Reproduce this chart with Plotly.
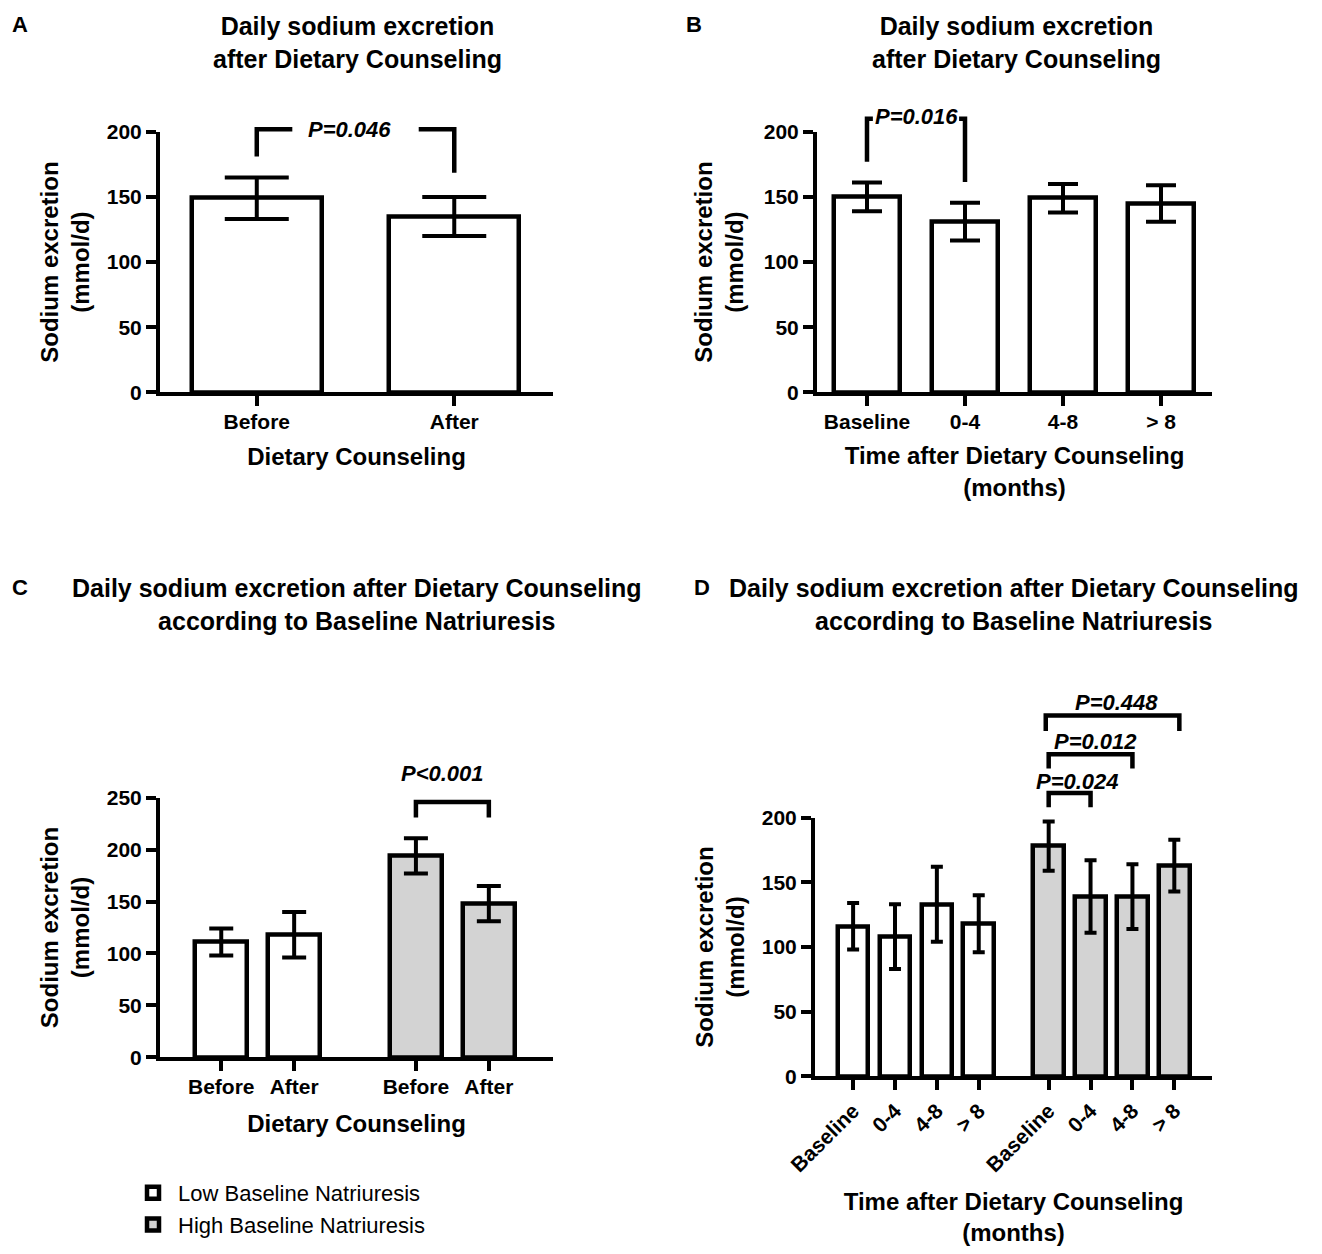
import plotly.graph_objects as go

# ---------------- data ----------------
a_categories = ["Before", "After"]
a_means = [149, 135]
a_sem = [16, 15]

b_categories = ["Baseline", "0-4", "4-8", "> 8"]
b_means = [150, 131, 149, 145]
b_sem = [11, 14.5, 11, 14]

c_categories = ["Before", "After"]
c_low_means = [111, 118]
c_low_sem = [13, 22]
c_high_means = [194, 148]
c_high_sem = [17, 17]

d_categories = ["Baseline", "0-4", "4-8", "> 8"]
d_low_means = [116, 108, 133, 118]
d_low_sem = [18, 25, 29, 22]
d_high_means = [178, 139, 139, 163]
d_high_sem = [19, 28, 25, 20]

group_names = ["Low Baseline Natriuresis", "High Baseline Natriuresis"]

a_yticks = [0, 50, 100, 150, 200]
c_yticks = [0, 50, 100, 150, 200, 250]

# p-value labels
a_p = "P=0.046"
b_p = "P=0.016"
c_p = "P<0.001"
d_p = ["P=0.024", "P=0.012", "P=0.448"]

# ---------------- layout helpers ----------------
W, H = 1322, 1254          # browser window
PAD = 8                     # default body margin of the html page
FW, FH = W - 2 * PAD, H - 2 * PAD
FONT = "Liberation Sans, Arial, Helvetica, sans-serif"
LOW_FILL = "white"
HIGH_FILL = "#d3d3d3"

# bar slot positions for the grouped panels (gap between groups)
c_low_x = [0, 1]
c_high_x = [2.67, 3.67]
d_low_x = [0, 1, 2, 3]
d_high_x = [4.67, 5.67, 6.67, 7.67]


def fx(p):
    return (p - PAD) / FW


def fy(p):
    return 1 - (p - PAD) / FH


# pixel boxes of the four plot areas: (left, right), (bottom, top), ymax
panels = {
    "A": dict(x=(160, 553), y=(393, 132), ymax=200),
    "B": dict(x=(817, 1212), y=(393, 132), ymax=200),
    "C": dict(x=(160, 553), y=(1059, 799), ymax=250),
    "D": dict(x=(815, 1212), y=(1078, 819), ymax=200),
}


def yv(panel, v):
    """convert a data value of a panel's y axis to paper coordinates"""
    p = panels[panel]
    b, t = fy(p["y"][0]), fy(p["y"][1])
    return b + v / p["ymax"] * (t - b)


def bar_style(fill):
    return dict(color=fill, line=dict(color="black", width=4.5))


def err(arr, cap):
    return dict(type="data", array=arr, symmetric=True, color="black",
                thickness=4, width=cap)


fig = go.Figure()

# Panel A
fig.add_trace(go.Bar(x=a_categories, y=a_means, error_y=err(a_sem, 32),
                     marker=bar_style(LOW_FILL), width=0.66,
                     xaxis="x", yaxis="y", showlegend=False))
# Panel B
fig.add_trace(go.Bar(x=b_categories, y=b_means, error_y=err(b_sem, 15),
                     marker=bar_style(LOW_FILL), width=0.68,
                     xaxis="x2", yaxis="y2", showlegend=False))
# Panel C
fig.add_trace(go.Bar(x=c_low_x, y=c_low_means, error_y=err(c_low_sem, 12),
                     marker=bar_style(LOW_FILL), width=0.71, name=group_names[0],
                     legendgroup="low", xaxis="x3", yaxis="y3", showlegend=True))
fig.add_trace(go.Bar(x=c_high_x, y=c_high_means, error_y=err(c_high_sem, 12),
                     marker=bar_style(HIGH_FILL), width=0.71, name=group_names[1],
                     legendgroup="high", xaxis="x3", yaxis="y3", showlegend=True))
# Panel D
fig.add_trace(go.Bar(x=d_low_x, y=d_low_means, error_y=err(d_low_sem, 6),
                     marker=bar_style(LOW_FILL), width=0.73, name=group_names[0],
                     legendgroup="low", xaxis="x4", yaxis="y4", showlegend=False))
fig.add_trace(go.Bar(x=d_high_x, y=d_high_means, error_y=err(d_high_sem, 6),
                     marker=bar_style(HIGH_FILL), width=0.73, name=group_names[1],
                     legendgroup="high", xaxis="x4", yaxis="y4", showlegend=False))

tickfont = dict(family=FONT, size=21, color="black", weight="bold")
titlefont = dict(family=FONT, size=24, color="black", weight="bold")
axis_common = dict(showline=True, linecolor="black", linewidth=4, ticks="outside",
                   ticklen=10, tickwidth=4, tickcolor="black", showgrid=False,
                   zeroline=False, tickfont=tickfont, automargin=False,
                   fixedrange=True)

ytitle = "Sodium excretion<br>(mmol/d)"

fig.update_layout(
    xaxis=dict(axis_common, domain=[fx(160), fx(553)], anchor="y",
               range=[-0.49, 1.5], type="category", ticklabelstandoff=-3,
               title=dict(text="Dietary Counseling", font=titlefont, standoff=18)),
    yaxis=dict(axis_common, domain=[fy(393), fy(132)], anchor="x",
               range=[0, 200], tickvals=a_yticks,
               title=dict(text=ytitle, font=titlefont, standoff=11)),
    xaxis2=dict(axis_common, domain=[fx(817), fx(1212)], anchor="y2",
                range=[-0.51, 3.52], type="category", ticklabelstandoff=-3,
                title=dict(text="Time after Dietary Counseling<br>(months)",
                           font=titlefont, standoff=17)),
    yaxis2=dict(axis_common, domain=[fy(393), fy(132)], anchor="x2",
                range=[0, 200], tickvals=a_yticks,
                title=dict(text=ytitle, font=titlefont, standoff=14)),
    xaxis3=dict(axis_common, domain=[fx(160), fx(553)], anchor="y3",
                range=[-0.84, 4.55], tickvals=c_low_x + c_high_x,
                ticktext=c_categories + c_categories, ticklabelstandoff=-3,
                title=dict(text="Dietary Counseling", font=titlefont, standoff=20)),
    yaxis3=dict(axis_common, domain=[fy(1059), fy(799)], anchor="x3",
                range=[0, 250], tickvals=c_yticks,
                title=dict(text=ytitle, font=titlefont, standoff=11)),
    xaxis4=dict(axis_common, domain=[fx(815), fx(1212)], anchor="y4",
                range=[-0.91, 8.57], tickvals=d_low_x + d_high_x,
                ticktext=d_categories + d_categories, tickangle=-45,
                title=dict(text="Time after Dietary Counseling<br>(months)",
                           font=titlefont, standoff=36)),
    yaxis4=dict(axis_common, domain=[fy(1078), fy(819)], anchor="x4",
                range=[0, 200], tickvals=a_yticks,
                title=dict(text=ytitle, font=titlefont, standoff=11)),
    width=FW, height=FH,
    margin=dict(l=0, r=0, t=0, b=0),
    plot_bgcolor="white", paper_bgcolor="white",
    font=dict(family=FONT, color="black"),
    bargap=0,
    legend=dict(x=fx(128), y=fy(1174), xanchor="left", yanchor="top",
                font=dict(family=FONT, size=22, color="black"),
                bgcolor="rgba(0,0,0,0)", itemwidth=40, tracegroupgap=0,
                traceorder="normal"),
)

annotations = []
title_font = dict(family=FONT, size=25, color="black", weight="bold")
letter_font = dict(family=FONT, size=22, color="black", weight="bold")

# panel letters
for letter, (lx, ly) in {"A": (10, 25), "B": (684, 25), "C": (10, 588), "D": (692, 588)}.items():
    annotations.append(dict(text=letter, x=fx(lx), y=fy(ly), xref="paper", yref="paper",
                            xanchor="left", yanchor="middle", showarrow=False, font=letter_font))

# panel titles
titles = [
    ("Daily sodium excretion<br>after Dietary Counseling", 357, 43),
    ("Daily sodium excretion<br>after Dietary Counseling", 1016, 43),
    ("Daily sodium excretion after Dietary Counseling<br>according to Baseline Natriuresis", 357, 605),
    ("Daily sodium excretion after Dietary Counseling<br>according to Baseline Natriuresis", 1014, 605),
]
for t, tx, ty in titles:
    annotations.append(dict(text=t, x=fx(tx), y=fy(ty), xref="paper", yref="paper",
                            xanchor="center", yanchor="middle", align="center",
                            showarrow=False, font=title_font))

p_font = dict(family=FONT, size=22, color="black", weight="bold", style="italic")


def p_label(text, x, panel, v, xref):
    annotations.append(dict(text=text, x=x, y=yv(panel, v), xref=xref, yref="paper",
                            xanchor="center", yanchor="middle", showarrow=False,
                            font=p_font))


p_label(a_p, 0.47, "A", 201.5, "x")
p_label(b_p, 0.5, "B", 211.5, "x2")
p_label(c_p, 3.04, "C", 273, "x3")
p_label(d_p[0], 5.35, "D", 228, "x4")
p_label(d_p[1], 5.78, "D", 259, "x4")
p_label(d_p[2], 6.3, "D", 289, "x4")

shapes = []


def path(panel, xref, pts):
    d = "M" + " L".join(f"{x},{yv(panel, v)}" for x, v in pts)
    shapes.append(dict(type="path", path=d, xref=xref, yref="paper",
                       line=dict(color="black", width=4.5)))


# A bracket (broken around the label)
path("A", "x", [(0, 181), (0, 202), (0.18, 202)])
path("A", "x", [(0.82, 202), (1, 202), (1, 168.5)])
# B bracket
path("B", "x2", [(0, 177), (0, 210), (0.06, 210)])
path("B", "x2", [(0.94, 210), (1, 210), (1, 161.5)])
# C bracket
path("C", "x3", [(c_high_x[0], 231), (c_high_x[0], 246), (c_high_x[1], 246), (c_high_x[1], 231)])
# D brackets
path("D", "x4", [(d_high_x[0], 208), (d_high_x[0], 219), (d_high_x[1], 219), (d_high_x[1], 208)])
path("D", "x4", [(d_high_x[0], 238), (d_high_x[0], 249), (d_high_x[2], 249), (d_high_x[2], 238)])
path("D", "x4", [(d_high_x[0] - 0.07, 267), (d_high_x[0] - 0.07, 279), (d_high_x[3] + 0.12, 279), (d_high_x[3] + 0.12, 267)])

fig.update_layout(annotations=annotations, shapes=shapes)

fig.write_html("out.html")
